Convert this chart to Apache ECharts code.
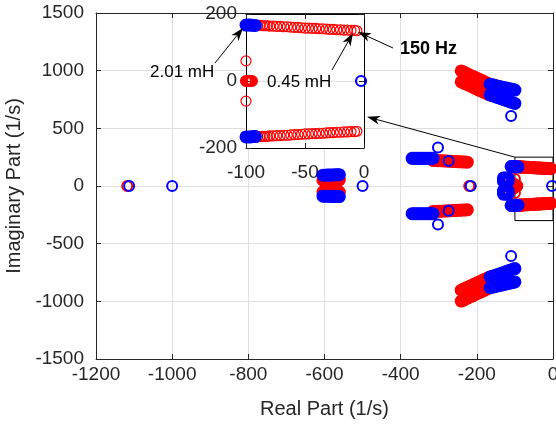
<!DOCTYPE html>
<html><head><meta charset="utf-8">
<script src="https://cdn.jsdelivr.net/npm/echarts@6.0.0/dist/echarts.min.js"></script>
<style>html,body{margin:0;padding:0;background:#fff}#c{width:556px;height:426px}</style>
</head><body><div id="c"></div>
<script>
// ---- tick values ----
const mainXTicks = [-1200, -1000, -800, -600, -400, -200, 0];
const mainYTicks = [-1500, -1000, -500, 0, 500, 1000, 1500];
const insetXTicks = [-100, -50, 0];
const insetYTicks = [-200, 0, 200];

// ---- red pole loci ----
const redSingles = [[-1118, 0], [-220, 0]];
const red600Up = [[-604,50],[-599,50],[-593,51],[-588,51],[-582,51],[-577,52],[-572,52],[-566,52],[-561,52]];
const red600Dn = [[-604,-50],[-599,-50],[-593,-51],[-588,-51],[-582,-51],[-577,-52],[-572,-52],[-566,-52],[-561,-52]];
const red300Up = [[-315,222],[-309,221],[-303,220],[-297,219],[-291,218],[-285,217],[-279,216],[-273,215],[-267,214],[-261,213],[-255,212],[-249,211],[-243,210],[-237,209],[-231,208],[-225,207]];
const red300Dn = [[-315,-222],[-309,-221],[-303,-220],[-297,-219],[-291,-218],[-285,-217],[-279,-216],[-273,-215],[-267,-214],[-261,-213],[-255,-212],[-249,-211],[-243,-210],[-237,-209],[-231,-208],[-225,-207]];
const redDiagOutUp = [[-241,998],[-235,989],[-229,980],[-223,970],[-216,959],[-210,950],[-204,941],[-197,930],[-191,921],[-185,912],[-179,902],[-172,891],[-166,882]];
const redDiagInUp  = [[-241,903],[-235,894],[-229,885],[-223,876],[-216,865],[-210,856],[-204,847],[-197,836],[-191,827],[-185,818],[-179,809],[-172,798],[-166,790]];
const redDiagOutDn = [[-241,-998],[-235,-989],[-229,-980],[-223,-970],[-216,-959],[-210,-950],[-204,-941],[-197,-930],[-191,-921],[-185,-912],[-179,-902],[-172,-891],[-166,-882]];
const redDiagInDn  = [[-241,-903],[-235,-894],[-229,-885],[-223,-876],[-216,-865],[-210,-856],[-204,-847],[-197,-836],[-191,-827],[-185,-818],[-179,-809],[-172,-798],[-166,-790]];
const redOrigUp = [[-90,166],[-88,166],[-86,165],[-84,165],[-82,165],[-80,164],[-77,164],[-74,163],[-71,163],[-68,162],[-65,162],[-62,161],[-59,160],[-56,160],[-53,159],[-50,158],[-47,158],[-44,157],[-41,157],[-38,156],[-35,156],[-32,155],[-29,154],[-26,154],[-23,153],[-20,153],[-17,152],[-14,152],[-11,151],[-8,151],[-6,150]];
const redOrigDn = [[-90,-166],[-88,-166],[-86,-165],[-84,-165],[-82,-165],[-80,-164],[-77,-164],[-74,-163],[-71,-163],[-68,-162],[-65,-162],[-62,-161],[-59,-160],[-56,-160],[-53,-159],[-50,-158],[-47,-158],[-44,-157],[-41,-157],[-38,-156],[-35,-156],[-32,-155],[-29,-154],[-26,-154],[-23,-153],[-20,-153],[-17,-152],[-14,-152],[-11,-151],[-8,-151],[-6,-150]];
const redMidZero = [[-100,0],[-99,0],[-98,0],[-97,0],[-96,0],[-95,0],[-110,30],[-110,-30],[-105,20],[-105,-20]];
const redMidPair = [[-100,60],[-100,-60]];

// ---- blue pole loci ----
const blueSingles = [[-1113,0],[-1000,0],[-500,0],[-216,0],[-2.5,0],[-302,333],[-302,-333],[-274,216],[-274,-214],[-110,607],[-110,-607]];
const blue600Up = [[-604,94],[-599,94],[-593,95],[-588,95],[-582,96],[-577,96],[-572,97],[-566,97],[-561,98]];
const blue600Dn = [[-604,-88],[-599,-88],[-593,-89],[-588,-89],[-582,-90],[-577,-90],[-572,-91],[-566,-91],[-561,-92]];
const blue300Up = [[-370,240],[-365,240],[-360,240],[-355,240],[-350,240],[-345,240],[-340,240],[-335,240],[-330,240],[-325,240],[-320,240],[-315,240]];
const blue300Dn = [[-370,-240],[-365,-240],[-360,-240],[-355,-240],[-350,-240],[-345,-240],[-340,-240],[-335,-240],[-330,-240],[-325,-240],[-320,-240],[-315,-240]];
const blueDiagOutUp = [[-165,882],[-159,877],[-153,873],[-147,868],[-141,863],[-135,859],[-129,854],[-123,849],[-117,845],[-111,840],[-105,836],[-100,832]];
const blueDiagInUp  = [[-165,790],[-159,783],[-153,776],[-147,769],[-141,763],[-135,756],[-129,749],[-123,742],[-117,735],[-111,728],[-105,722],[-100,716]];
const blueDiagOutDn = [[-165,-882],[-159,-877],[-153,-873],[-147,-868],[-141,-863],[-135,-859],[-129,-854],[-123,-849],[-117,-845],[-111,-840],[-105,-836],[-100,-832]];
const blueDiagInDn  = [[-165,-790],[-159,-783],[-153,-776],[-147,-769],[-141,-763],[-135,-756],[-129,-749],[-123,-742],[-117,-735],[-111,-728],[-105,-722],[-100,-716]];
const blueOrigUp = [[-110,169],[-108,169],[-106,168],[-104,168],[-102,168],[-100,167],[-98,167],[-96,167],[-94,166],[-92,166]];
const blueOrigDn = [[-110,-169],[-108,-169],[-106,-168],[-104,-168],[-102,-168],[-100,-167],[-98,-167],[-96,-167],[-94,-166],[-92,-166]];
const blueMid = [[-130,70],[-126,70],[-122,70],[-118,70],[-130,55],[-126,55],[-122,55],[-118,55],[-130,40],[-126,40],[-122,40],[-118,40],
                 [-130,-70],[-126,-70],[-122,-70],[-118,-70],[-130,-55],[-126,-55],[-122,-55],[-118,-55],[-130,-40],[-126,-40],[-122,-40],[-118,-40]];

// [data, isBand]
const redSets = [[redSingles,false],[red600Up,true],[red600Dn,true],[red300Up,true],[red300Dn,true],[redDiagOutUp,true],[redDiagInUp,true],
                 [redDiagOutDn,true],[redDiagInDn,true],[redOrigUp,true],[redOrigDn,true],[redMidZero,true],[redMidPair,false]];
const blueSets = [[blueSingles,false],[blue600Up,true],[blue600Dn,true],[blue300Up,true],[blue300Dn,true],[blueDiagOutUp,true],[blueDiagInUp,true],
                  [blueDiagOutDn,true],[blueDiagInDn,true],[blueOrigUp,true],[blueOrigDn,true],[blueMid,true]];

const RED = '#ff0000', BLUE = '#0000ff', AX = '#262626', GRID = '#dfdfdf';
const FONT = '"Liberation Sans", Arial, Helvetica, sans-serif';
const fmt = v => String(v);

function sc(data, color, bw, inset) {
  return {
    type: 'scatter', data, xAxisIndex: inset ? 2 : 0, yAxisIndex: inset ? 2 : 0,
    symbol: 'circle', symbolSize: 10, silent: true, clip: true, z: inset ? 4 : 2,
    itemStyle: { color: 'rgba(0,0,0,0)', borderColor: color, borderWidth: bw, opacity: 1 },
    emphasis: { disabled: true }, animation: false
  };
}
const series = [];
redSets.forEach(([d, band]) => series.push(sc(d, RED, band ? 3 : 2, false)));
blueSets.forEach(([d, band]) => series.push(sc(d, BLUE, band ? 3 : 2, false)));
redSets.forEach(([d, band], i) => series.push(sc(d, RED, i === 11 ? 2.2 : 1.2, true)));
blueSets.forEach(([d, band]) => series.push(sc(d, BLUE, band ? 3 : 2.2, true)));
// zoom rectangle in main axes
series[0].markArea = {
  silent: true, label: { show: false },
  itemStyle: { color: 'rgba(0,0,0,0)', borderColor: '#000', borderWidth: 1 },
  data: [[{ coord: [-100, 250] }, { coord: [0, -300] }]]
};

function ax(ticks, opts) {
  const base = {
    type: 'value', min: ticks[0], max: ticks[ticks.length - 1], interval: ticks[1] - ticks[0],
    axisLine: { show: true, onZero: false, lineStyle: { color: AX, width: 1 } },
    axisTick: { show: true, inside: true, length: 5, lineStyle: { color: AX } },
    axisLabel: { show: true, color: AX, fontSize: 19, fontFamily: FONT, formatter: fmt },
    splitLine: { show: false }
  };
  return Object.assign(base, opts);
}
function lab(margin) { return { show: true, color: AX, fontSize: 19, fontFamily: FONT, margin, formatter: fmt }; }
const insetLine = { show: true, onZero: false, lineStyle: { color: '#000', width: 1 } };

const option = {
  animation: false,
  backgroundColor: '#fff',
  textStyle: { fontFamily: FONT },
  grid: [
    { left: 96, right: 3, top: 13, bottom: 67, containLabel: false, outerBoundsMode: 'none' },
    { left: 246, top: 14, width: 118, height: 134, show: true, backgroundColor: '#fff', borderWidth: 0, z: 1, containLabel: false, outerBoundsMode: 'none' }
  ],
  xAxis: [
    ax(mainXTicks, { gridIndex: 0, position: 'bottom', splitLine: { show: true, lineStyle: { color: GRID } },
      axisLabel: lab(6),
      name: 'Real Part (1/s)', nameLocation: 'middle', nameGap: 40,
      nameTextStyle: { color: AX, fontSize: 20, fontFamily: FONT } }),
    ax(mainXTicks, { gridIndex: 0, position: 'top', axisLabel: { show: false } }),
    ax(insetXTicks, { gridIndex: 1, position: 'bottom', z: 2, axisLine: insetLine,
      splitLine: { show: true, lineStyle: { color: GRID } }, axisLabel: lab(15) }),
    ax(insetXTicks, { gridIndex: 1, position: 'top', z: 2, axisLine: insetLine, axisLabel: { show: false } })
  ],
  yAxis: [
    ax(mainYTicks, { gridIndex: 0, position: 'left', splitLine: { show: true, lineStyle: { color: GRID } },
      axisLabel: lab(12),
      name: 'Imaginary Part (1/s)', nameLocation: 'middle', nameGap: 66,
      nameTextStyle: { color: AX, fontSize: 20, fontFamily: FONT } }),
    ax(mainYTicks, { gridIndex: 0, position: 'right', axisLabel: { show: false } }),
    ax(insetYTicks, { gridIndex: 1, position: 'left', z: 2, axisLine: insetLine,
      splitLine: { show: true, lineStyle: { color: GRID } }, axisLabel: lab(9) }),
    ax(insetYTicks, { gridIndex: 1, position: 'right', z: 2, axisLine: insetLine, axisLabel: { show: false } })
  ],
  series
};

const chart = echarts.init(document.getElementById('c'), null, { renderer: 'canvas' });
chart.setOption(option);

// ---- annotations (arrows + text) ----
function arrow(t, h) {
  const dx = h[0] - t[0], dy = h[1] - t[1];
  const len = Math.sqrt(dx * dx + dy * dy);
  const ux = dx / len, uy = dy / len, nx = -uy, ny = ux;
  const L = 13, W = 9, N = 0.72;
  const b1 = [h[0] - L * ux + W / 2 * nx, h[1] - L * uy + W / 2 * ny];
  const b2 = [h[0] - L * ux - W / 2 * nx, h[1] - L * uy - W / 2 * ny];
  const nt = [h[0] - N * L * ux, h[1] - N * L * uy];
  return [
    { type: 'line', z: 50, silent: true, shape: { x1: t[0], y1: t[1], x2: nt[0], y2: nt[1] }, style: { stroke: '#000', lineWidth: 1 } },
    { type: 'polygon', z: 51, silent: true, shape: { points: [h, b1, nt, b2] }, style: { fill: '#000' } }
  ];
}
function label(txt, x, y, bold) {
  return { type: 'text', z: 52, silent: true, x, y,
    style: { text: txt, fill: '#000', font: (bold ? 'bold 18px ' : '17px ') + FONT,
      textAlign: 'left', textVerticalAlign: 'middle', align: 'left', verticalAlign: 'middle' } };
}
const rc = chart.convertToPixel({ gridIndex: 0 }, [-100, 250]);
const ie = chart.convertToPixel({ gridIndex: 1 }, [0, -107]);
const g = [].concat(
  arrow([215, 63], [243, 28]),
  arrow([332, 70], [353, 33]),
  arrow([393, 48], [358, 32]),
  arrow([rc[0], rc[1]], [ie[0] + 3, ie[1]]),
  [label('2.01 mH', 150, 72, false), label('0.45 mH', 267, 82, false), label('150 Hz', 400, 49, true)]
);
chart.setOption({ graphic: g });
</script></body></html>
